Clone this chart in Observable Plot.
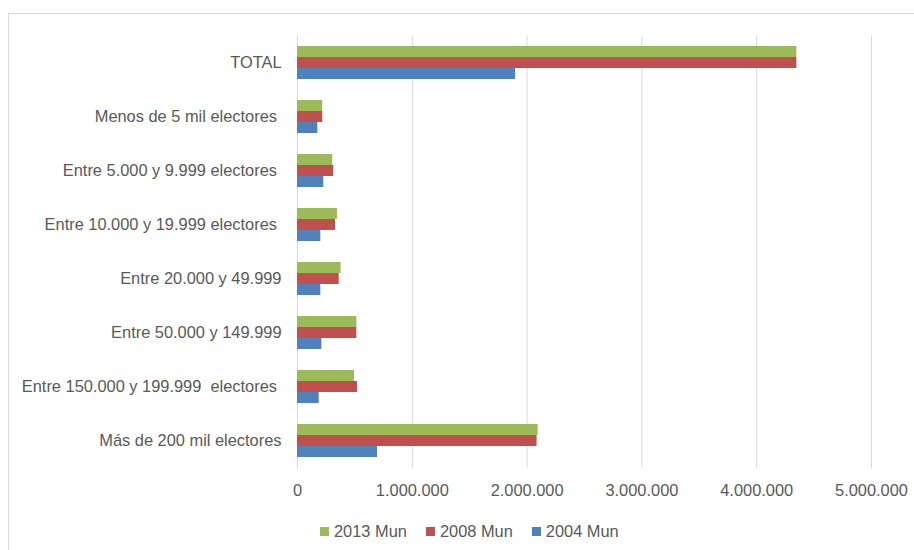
<!DOCTYPE html>
<html>
<head>
<meta charset="utf-8">
<script src="https://cdn.jsdelivr.net/npm/d3@7"></script>
<script src="https://cdn.jsdelivr.net/npm/@observablehq/plot@0.6"></script>
<style>
  body { margin: 0; background: #fff; font-family: "Liberation Sans", Arial, sans-serif; }
  #frame { position: absolute; left: 8px; top: 13px; width: 1000px; height: 600px; border: 1px solid #d9d9d9; box-sizing: border-box; }
  #chart { position: absolute; left: 0; top: 0; }
  #legend { position: absolute; left: 0; top: 515px; width: 914px; }
  #legend .lg-swatches { padding-left: 320px; }
  #legend .lg-swatches .lg-swatch { margin-right: 19px; }
  #legend .lg-swatches .lg-swatch > svg { margin-right: 5px; }
</style>
</head>
<body>
<div id="frame"></div>
<div id="chart"></div>
<div id="legend"></div>
<script>
// Electores por tramo de población municipal
const categories = [
  "TOTAL",
  "Menos de 5 mil electores\u00A0",
  "Entre 5.000 y 9.999 electores\u00A0",
  "Entre 10.000 y 19.999 electores\u00A0",
  "Entre 20.000 y 49.999",
  "Entre 50.000 y 149.999",
  "Entre 150.000 y 199.999\u00A0 electores\u00A0",
  "Más de 200 mil electores"
];
const series = ["2013 Mun", "2008 Mun", "2004 Mun"];
const colors = ["#9bbb59", "#c0504d", "#4f81bd"];

const mun2013 = [4350000, 220000, 307000, 348000, 380000, 517000, 497000, 2096000];
const mun2008 = [4350000, 220000, 316000, 331000, 363000, 517000, 523000, 2087000];
const mun2004 = [1900000, 177000, 229000, 203000, 203000, 212000, 189000, 697000];

const xTicks = [0, 1000000, 2000000, 3000000, 4000000, 5000000];
const fmt = d => d3.format(",")(d).replace(/,/g, ".");

// each series occupies one third of the category band
const bandPart = 11;
const seriesBars = [mun2013, mun2008, mun2004].map((values, i) =>
  Plot.barX(categories, {
    y: d => d,
    x: (d, j) => values[j],
    fill: () => series[i],
    insetTop: bandPart * i,
    insetBottom: bandPart * (2 - i)
  })
);

const chart = Plot.plot({
  width: 914,
  height: 505,
  marginLeft: 297,
  marginRight: 43,
  marginTop: 35.5,
  marginBottom: 37.5,
  style: { fontFamily: "Liberation Sans, Arial, sans-serif", fontSize: "16.4px", color: "#595959", background: "transparent", overflow: "visible" },
  x: { domain: [0, 5000000], ticks: xTicks, tickFormat: fmt, tickSize: 0, tickPadding: 16, label: null },
  y: { domain: categories, paddingInner: 0.389, paddingOuter: 0.194, tickSize: 0, tickPadding: 16, label: null },
  color: { domain: series, range: colors },
  marks: [
    Plot.ruleX(xTicks, { stroke: "#d9d9d9", strokeWidth: 1 }),
    ...seriesBars
  ]
});
document.getElementById("chart").append(chart);

const legend = chart.legend("color", {
  className: "lg",
  swatchSize: 9,
  style: { fontFamily: "Liberation Sans, Arial, sans-serif", fontSize: "16.4px", color: "#595959" }
});
document.getElementById("legend").append(legend);
</script>
</body>
</html>
